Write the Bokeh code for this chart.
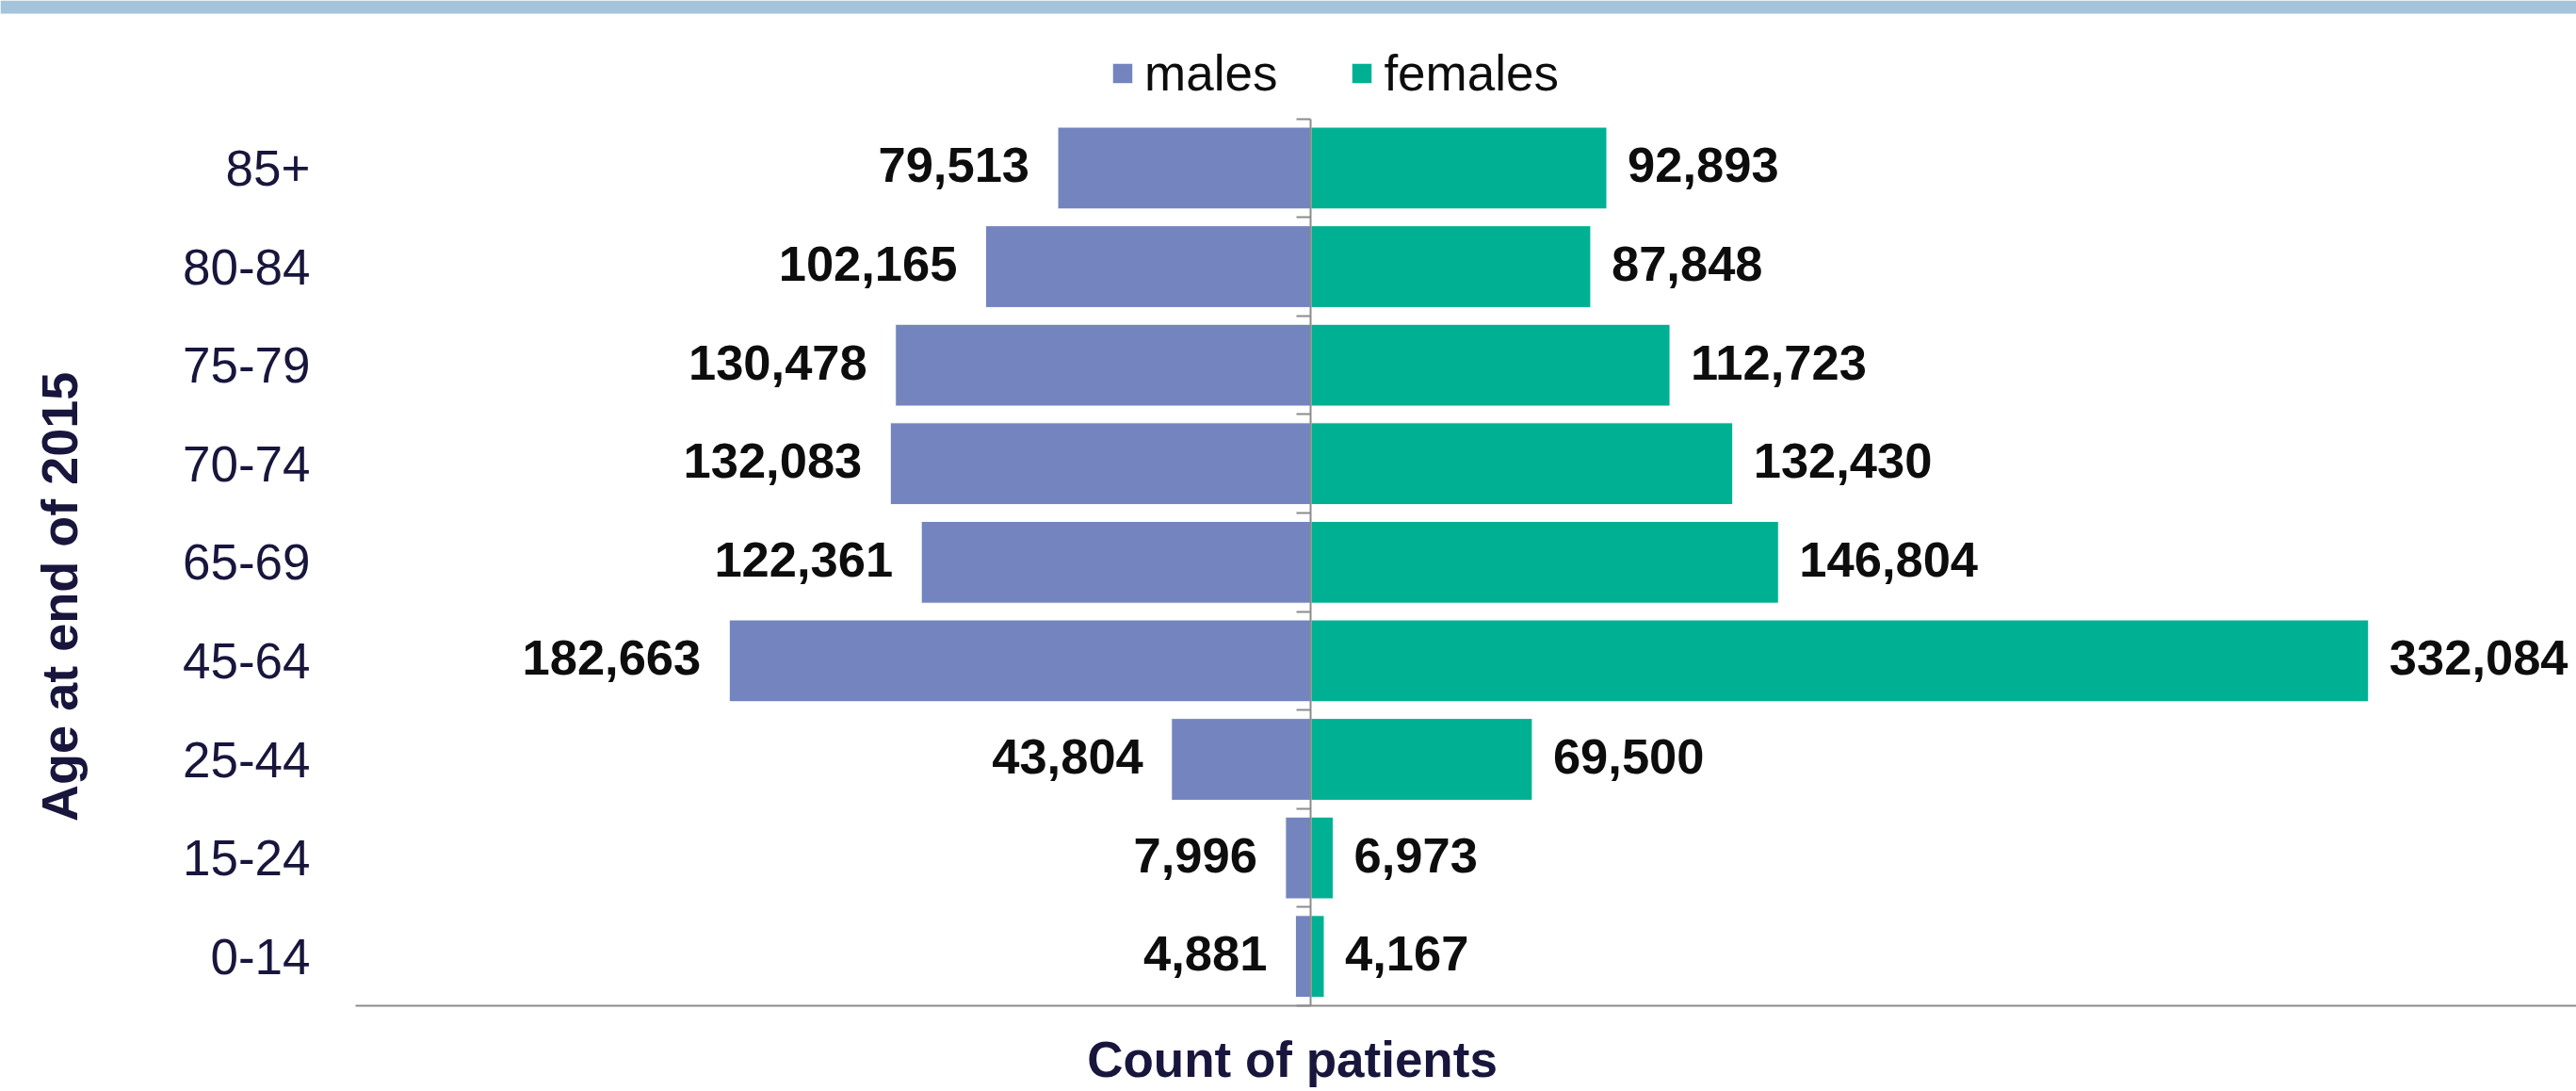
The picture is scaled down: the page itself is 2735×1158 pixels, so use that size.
from math import pi
from bokeh.plotting import figure
from bokeh.models import (ColumnDataSource, Range1d, LinearAxis, FixedTicker,
                          Legend, LegendItem, Label, BoxAnnotation, CustomJSTickFormatter)
from bokeh.core.properties import value
from bokeh.embed import file_html
from bokeh.resources import INLINE

# ---- data ----
age_groups = ["0-14", "15-24", "25-44", "45-64", "65-69", "70-74", "75-79", "80-84", "85+"]
males = [4881, 7996, 43804, 182663, 122361, 132083, 130478, 102165, 79513]
females = [4167, 6973, 69500, 332084, 146804, 132430, 112723, 87848, 92893]
series_names = ["males", "females"]
x_title = "Count of patients"
y_title = "Age at end of 2015"

# ---- styles ----
MALE_COLOR = "#7384BE"
FEMALE_COLOR = "#00B092"
AXIS_COLOR = "#8C8C8C"
NAVY = "#18163C"
FONT = "Liberation Sans"
FS = "53px"
FS_LBL = "52.5px"
FS_TITLE = "54px"

n = len(age_groups)
ypos = [i + 0.5 for i in range(n)]  # category band centres

src = ColumnDataSource(dict(
    y=ypos,
    m_left=[-v for v in males],
    f_right=females,
    m_lbl=[f"{v:,}" for v in males],
    f_lbl=[f"{v:,}" for v in females],
))

# ---- layout: the frame fills the whole canvas ----
W, H = 2735, 1158
X0, X1 = -411500, 397360      # horizontal extent of canvas in counts
Y0, Y1 = -0.870, 10.201       # vertical extent of canvas in category bands
AX_LEFT = -300000             # where the value axis starts

p = figure(width=W, height=H,
           x_range=Range1d(X0, X1), y_range=Range1d(Y0, Y1),
           x_axis_location=None, y_axis_location=None,
           output_backend="svg", toolbar_location=None,
           min_border=0)
p.outline_line_color = None
p.grid.visible = False
p.background_fill_color = "white"
p.border_fill_color = "white"

mr = p.hbar(y="y", left="m_left", right=0, height=0.83, source=src,
            fill_color=MALE_COLOR, line_color="white", line_width=1)
fr = p.hbar(y="y", left=0, right="f_right", height=0.83, source=src,
            fill_color=FEMALE_COLOR, line_color="white", line_width=1)

# data labels
p.text(x="m_left", y="y", text="m_lbl", source=src, x_offset=-30, y_offset=-3,
       text_align="right", text_baseline="middle",
       text_font=value(FONT), text_font_style="bold", text_font_size=value(FS_LBL),
       text_color="#0d0d0d")
p.text(x="f_right", y="y", text="f_lbl", source=src, x_offset=22, y_offset=-3,
       text_align="left", text_baseline="middle",
       text_font=value(FONT), text_font_style="bold", text_font_size=value(FS_LBL),
       text_color="#0d0d0d")

# bottom value axis: line only
xax = LinearAxis(fixed_location=0, bounds=(AX_LEFT, X1),
                 ticker=FixedTicker(ticks=[]),
                 axis_line_color=AXIS_COLOR, axis_line_width=2,
                 major_tick_line_color=None, minor_tick_line_color=None)
p.add_layout(xax, "below")

# category labels
yax = LinearAxis(fixed_location=AX_LEFT, bounds=(0, n),
                 ticker=FixedTicker(ticks=ypos),
                 formatter=CustomJSTickFormatter(args=dict(labels=age_groups),
                                                 code="return labels[Math.floor(tick)] || '';"),
                 axis_line_color=None, major_tick_line_color=None,
                 minor_tick_line_color=None, major_tick_out=0,
                 major_label_standoff=48,
                 major_label_text_font=FONT, major_label_text_font_size=FS,
                 major_label_text_color=NAVY)
p.add_layout(yax, "left")

# central vertical axis with ticks between categories
cax = LinearAxis(fixed_location=0, bounds=(0, n),
                 ticker=FixedTicker(ticks=list(range(n + 1))),
                 formatter=CustomJSTickFormatter(code="return '';"),
                 major_tick_out=15, major_tick_in=0,
                 major_tick_line_color=AXIS_COLOR, major_tick_line_width=2,
                 minor_tick_line_color=None,
                 axis_line_color=AXIS_COLOR, axis_line_width=2)
p.add_layout(cax, "left")

# legend
legend = Legend(items=[LegendItem(label=series_names[0], renderers=[mr]),
                       LegendItem(label=series_names[1], renderers=[fr])],
                orientation="horizontal", location=(1178, 1050),
                padding=0, margin=0, spacing=76, label_standoff=10,
                glyph_width=27, glyph_height=27,
                label_text_font=FONT, label_text_font_size=FS, label_text_color="#0d0d0d",
                border_line_color=None, background_fill_alpha=0)
p.add_layout(legend)

# axis titles
p.add_layout(Label(x=-393160, y=4.151, text=y_title, angle=pi / 2,
                   text_align="center", text_baseline="middle",
                   text_font=FONT, text_font_style="bold", text_font_size=FS_TITLE,
                   text_color=NAVY))
p.add_layout(Label(x=-5885, y=-0.545, text=x_title,
                   text_align="center", text_baseline="middle",
                   text_font=FONT, text_font_style="bold", text_font_size="53px",
                   text_color=NAVY))

# decorative top band
p.add_layout(BoxAnnotation(bottom=10.067, fill_color="#A3C4DA", fill_alpha=1,
                           line_color=None))

open("out.html", "w").write(file_html(p, INLINE))
